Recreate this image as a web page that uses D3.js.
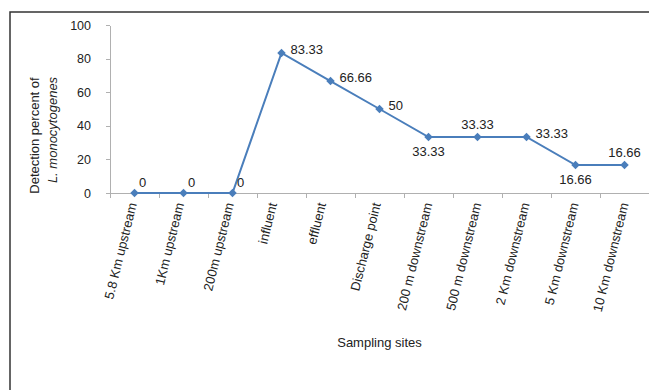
<!DOCTYPE html>
<html lang="en">
<head>
<meta charset="UTF-8">
<title>Detection percent of L. monocytogenes by sampling site</title>
<script src="https://d3js.org/d3.v7.min.js"></script>
<style>
    body { margin: 0; background: #fff; font-family: "Liberation Sans", Arial, sans-serif; }
    .axis path, .axis line { stroke: #b0b0b0; shape-rendering: crispEdges; }
    .axis text { fill: #222; font-size: 12.5px; font-family: "Liberation Sans", Arial, sans-serif; }
    text { fill: #222; }
</style>
</head>
<body>
<div id="chart"></div>
<script>
    // data
    const sites = ["5.8 Km upstream", "1Km upstream", "200m upstream", "influent", "effluent",
        "Discharge point", "200 m downstream", "500 m downstream", "2 Km downstream",
        "5 Km downstream", "10 Km downstream"];
    const detection = [0, 0, 0, 83.33, 66.66, 50, 33.33, 33.33, 33.33, 16.66, 16.66];
    const valueLabels = ["0", "0", "0", "83.33", "66.66", "50", "33.33", "33.33", "33.33", "16.66", "16.66"];
    const yTicks = [0, 20, 40, 60, 80, 100];
    // where each value label sits next to its point
    const labelPos = ["tr", "tr", "tr", "r", "r", "r", "b", "t", "r", "b", "t"];

    const W = 649, H = 390;
    const plot = {left: 110, right: 649, top: 25, bottom: 193};

    const svg = d3.select("#chart").append("svg")
        .attr("width", W).attr("height", H);

    // outer frame (runs off the picture at right and bottom)
    svg.append("rect")
        .attr("x", 10).attr("y", 12)
        .attr("width", 700).attr("height", 500)
        .attr("fill", "none")
        .attr("stroke", "#333")
        .attr("stroke-width", 1.5);

    const x = d3.scaleBand().domain(sites).range([plot.left, plot.right]);
    const xEdge = d3.scaleLinear().domain([0, sites.length]).range([plot.left, plot.right]);
    const y = d3.scaleLinear().domain([0, 100]).range([plot.bottom, plot.top]);

    // y axis
    svg.append("g")
        .attr("class", "axis")
        .attr("transform", `translate(${plot.left},0)`)
        .call(d3.axisLeft(y).tickValues(yTicks).tickSizeInner(4).tickSizeOuter(0).tickPadding(15))
        .selectAll("text").style("font-size", "12.5px");

    // x axis: ticks between categories
    svg.append("g")
        .attr("class", "axis")
        .attr("transform", `translate(0,${plot.bottom})`)
        .call(d3.axisBottom(xEdge).tickValues(d3.range(sites.length + 1)).tickFormat("").tickSizeInner(5).tickSizeOuter(0));

    // rotated category labels
    const ang = 76;
    const rad = ang * Math.PI / 180;
    const catLabels = svg.append("g").selectAll("text")
        .data(sites)
        .enter().append("text")
        .attr("text-anchor", "end")
        .style("font-size", "13px")
        .text(d => d);
    catLabels.attr("transform", function (d) {
        const L = this.getComputedTextLength();
        const cx = x(d) + x.bandwidth() / 2;
        const ex = cx - 9.5 + L * Math.cos(rad) / 2;
        return `translate(${ex},204) rotate(${-ang})`;
    });

    // line + markers
    const pts = sites.map((s, i) => ({site: s, v: detection[i], lab: valueLabels[i], pos: labelPos[i]}));
    const line = d3.line()
        .x(d => x(d.site) + x.bandwidth() / 2)
        .y(d => y(d.v));

    svg.append("path")
        .datum(pts)
        .attr("fill", "none")
        .attr("stroke", "#4a7ebb")
        .attr("stroke-width", 2)
        .attr("d", line);

    svg.append("g").selectAll("path")
        .data(pts)
        .enter().append("path")
        .attr("d", d3.symbol().type(d3.symbolSquare).size(36))
        .attr("fill", "#4a7ebb")
        .attr("transform", d => `translate(${x(d.site) + x.bandwidth() / 2},${y(d.v)}) rotate(45)`);

    // value labels
    const off = {
        tr: {dx: 4.5, dy: -6.5, anchor: "start"},
        r: {dx: 9, dy: 1, anchor: "start"},
        b: {dx: 0, dy: 19, anchor: "middle"},
        t: {dx: 0, dy: -8.5, anchor: "middle"}
    };
    svg.append("g").selectAll("text")
        .data(pts)
        .enter().append("text")
        .attr("x", d => x(d.site) + x.bandwidth() / 2 + off[d.pos].dx)
        .attr("y", d => y(d.v) + off[d.pos].dy)
        .attr("text-anchor", d => off[d.pos].anchor)
        .style("font-size", "13px")
        .text(d => d.lab);

    // axis titles
    const yTitle = svg.append("text")
        .attr("transform", "rotate(-90)")
        .attr("text-anchor", "middle")
        .style("font-size", "13px");
    yTitle.append("tspan").attr("x", -135.5).attr("y", 38.5).text("Detection percent of");
    yTitle.append("tspan").attr("x", -130).attr("y", 56.5)
        .style("font-style", "italic").text("L. monocytogenes");

    svg.append("text")
        .attr("x", (plot.left + plot.right) / 2)
        .attr("y", 347)
        .attr("text-anchor", "middle")
        .style("font-size", "13px")
        .text("Sampling sites");
</script>
</body>
</html>
